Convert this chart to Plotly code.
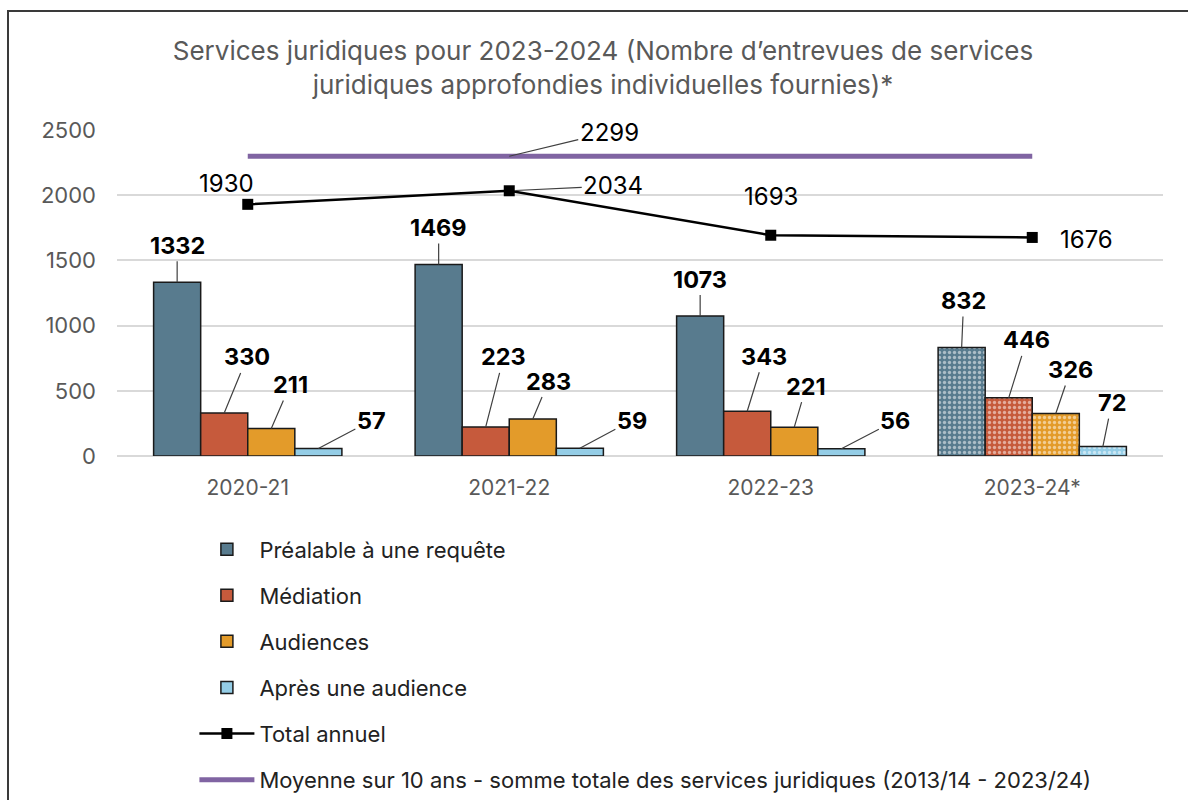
import plotly.graph_objects as go

# ---------------- data ----------------
years = ["2020-21", "2021-22", "2022-23", "2023-24*"]
prealable = [1332, 1469, 1073, 832]
mediation = [330, 223, 343, 446]
audiences = [211, 283, 221, 326]
apres = [57, 59, 56, 72]
total_annuel = [1930, 2034, 1693, 1676]
moyenne_10 = 2299

series_names = ["Préalable à une requête", "Médiation", "Audiences", "Après une audience"]
series_values = [prealable, mediation, audiences, apres]
series_colors = ["#587B8E", "#C65A3C", "#E39B2A", "#94CDE6"]
title_text = ("Services juridiques pour 2023-2024 (Nombre d’entrevues de services<br>"
              "juridiques approfondies individuelles fournies)*")
moy_name = "Moyenne sur 10 ans - somme totale des services juridiques (2013/14 - 2023/24)"

# ---------------- layout constants ----------------
W, H = 1188, 800
ML, MR, MT, MB = 117, 25, 130, 344
BARGAP = 0.28
FONT = "Inter, Open Sans, sans-serif"

# label offsets (pixels) per series per year: (ax, ay)
bar_label_offsets = [
    [(0, -37), (0, -37), (0, -37), (2, -47)],
    [(23, -56), (18, -70), (17, -55), (18, -58)],
    [(19, -44), (16, -38), (12, -41), (15, -44)],
    [(53, -28), (52, -28), (54, -28), (9, -44)],
]

fig = go.Figure()

patterns = ["", "", "", "."]
for name, vals, col in zip(series_names, series_values, series_colors):
    fig.add_trace(go.Bar(
        x=years, y=vals, name=name, legendgroup=name,
        marker=dict(color=col, line=dict(color="#1a1a1a", width=1.5),
                    pattern=dict(shape=patterns, fgcolor="white", bgcolor=col,
                                 size=5, solidity=0.35, fillmode="overlay")),
    ))

fig.add_trace(go.Scatter(
    x=years, y=total_annuel, name="Total annuel", legendgroup="total",
    mode="lines+markers", line=dict(color="black", width=2.5),
    marker=dict(symbol="square", size=11, color="black"),
))

fig.add_trace(go.Scatter(
    x=years, y=[moyenne_10] * len(years), name=moy_name, legendgroup="moy",
    mode="lines", line=dict(color="#8064A2", width=5),
))

LABEL_SIZE = 23.5
LINE_LABEL_SIZE = 24

annotations = []
w = (1 - BARGAP) / len(series_values)
for si, vals in enumerate(series_values):
    off = (si - (len(series_values) - 1) / 2) * w
    for yi, v in enumerate(vals):
        ax, ay = bar_label_offsets[si][yi]
        annotations.append(dict(
            x=yi + off, y=v, xref="x", yref="y", text=f"<b>{v}</b>",
            showarrow=True, arrowhead=0, arrowwidth=1.2, arrowcolor="#404040",
            ax=ax, ay=ay, standoff=0,
            font=dict(family=FONT, size=LABEL_SIZE, color="black"),
        ))

# total labels
total_label = [(-21, -21, False), (104, -5, True), (0, -39, False), (54, 2, False)]
for yi, v in enumerate(total_annuel):
    ax, ay, arrow = total_label[yi]
    if arrow:
        annotations.append(dict(x=yi, y=v, xref="x", yref="y", text=str(v),
                                showarrow=True, arrowhead=0, arrowwidth=1.2,
                                arrowcolor="#404040", ax=ax, ay=ay, standoff=6,
                                font=dict(family=FONT, size=LINE_LABEL_SIZE, color="black")))
    else:
        annotations.append(dict(x=yi, y=v, xref="x", yref="y", text=str(v),
                                showarrow=False, xshift=ax, yshift=-ay,
                                font=dict(family=FONT, size=LINE_LABEL_SIZE, color="black")))

annotations.append(dict(x=1, y=moyenne_10, xref="x", yref="y", text=str(moyenne_10),
                        showarrow=True, arrowhead=0, arrowwidth=1.2,
                        arrowcolor="#404040", ax=100, ay=-24, standoff=0,
                        font=dict(family=FONT, size=LINE_LABEL_SIZE, color="black")))

pw = W - ML - MR
ph = H - MT - MB
border = dict(type="rect", xref="paper", yref="paper",
              x0=(8 - ML) / pw, x1=(W + 10 - ML) / pw,
              y0=(H - MB - (H + 10)) / ph, y1=(H - MB - 11) / ph,
              line=dict(color="#3a3a3a", width=2), fillcolor="rgba(0,0,0,0)", layer="below")

fig.update_layout(
    width=W, height=H,
    margin=dict(l=ML, r=MR, t=MT, b=MB, autoexpand=False),
    paper_bgcolor="white", plot_bgcolor="white",
    barmode="group", bargap=BARGAP, bargroupgap=0,
    title=dict(text=title_text, x=603 / W, xanchor="center", xref="container",
               y=1 - 60 / H, yanchor="top", yref="container",
               font=dict(family=FONT, size=26, color="#595959")),
    xaxis=dict(type="category", range=[-0.5, 3.5], showgrid=False, showline=False,
               ticks="", tickfont=dict(family=FONT, size=21, color="#595959"),
               ticklabelstandoff=17),
    yaxis=dict(range=[0, 2500], dtick=500, showgrid=True, gridcolor="#D9D9D9",
               gridwidth=1.5, zeroline=True, zerolinecolor="#D9D9D9", zerolinewidth=1.5,
               showline=False, ticks="", tickfont=dict(family=FONT, size=22, color="#595959"),
               ticklabelstandoff=20),
    legend=dict(orientation="v", x=0.074, xanchor="left", y=-0.222, yanchor="top",
                traceorder="grouped", tracegroupgap=14.5,
                font=dict(family=FONT, size=22, color="#222222"),
                bgcolor="rgba(0,0,0,0)", itemwidth=55),
    annotations=annotations,
    shapes=[border],
    showlegend=True,
)

fig.write_html("out.html")
